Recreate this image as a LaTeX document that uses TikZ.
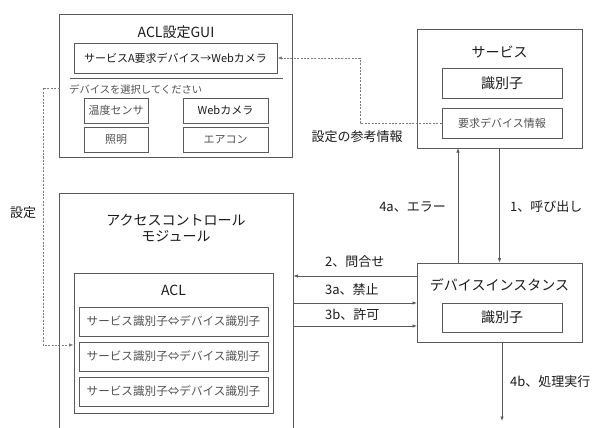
\documentclass[tikz,border=0pt]{standalone}
\usepackage{fontspec}
\setmainfont{Noto Sans CJK JP}
\usetikzlibrary{arrows.meta}
\definecolor{ln}{HTML}{5A5A5A}
\definecolor{tx}{HTML}{1A1A1A}
\definecolor{tl}{HTML}{505050}
\tikzset{
  box/.style={draw=ln,line width=0.8pt,minimum width=#1,inner sep=0pt},
  ttl/.style={font=\fontsize{14}{16}\selectfont,text=tx},
  lbl/.style={font=\fontsize{13}{15}\selectfont,text=tx,inner sep=0pt},
  sml/.style={font=\fontsize{11}{13}\selectfont,text=tl},
  ent/.style={font=\fontsize{11.6}{13}\selectfont,text=tl},
  conn/.style={draw=ln,line width=0.8pt,-{Latex[length=4.5pt,width=3.5pt]}},
  dconn/.style={draw=ln!80,line width=0.8pt,dash pattern=on 2pt off 1.4pt,-{Latex[length=4.5pt,width=3.5pt]}}
}
\begin{document}
\begin{tikzpicture}[x=1pt,y=-1pt]
\useasboundingbox (0,0) rectangle (603,428);
\clip (0,0) rectangle (603,428);
% GUI
\node[box=233pt,minimum height=143.5pt] (gui) at (176,85.75) {};
\node[ttl] (guititle) at (176,32) {ACL設定GUI};
\node[box=203pt,minimum height=30pt,sml,text=tx] (guisel) at (175.5,58) {サービスA要求デバイス→Webカメラ};
\coordinate (sepL) at (70,78);
\coordinate (sepR) at (283,78);
\draw[ln,line width=0.8pt] (sepL) -- (sepR);
\node[sml,font=\fontsize{10.3}{12}\selectfont,anchor=west,inner sep=0pt] (prompt) at (69,90) {デバイスを選択してください};
\node[box=64pt,minimum height=25pt,sml] (b1) at (116,110.5) {温度センサ};
\node[box=85pt,minimum height=25pt,sml,text=tx] (b2) at (225.5,110.5) {Webカメラ};
\node[box=64pt,minimum height=25pt,sml] (b3) at (116,140) {照明};
\node[box=85pt,minimum height=25pt,sml] (b4) at (225.5,140) {エアコン};
% Service
\node[box=165pt,minimum height=119pt] (svc) at (499.5,88.5) {};
\node[ttl] (svctitle) at (499.5,52) {サービス};
\node[box=120pt,minimum height=30pt,ttl] (svcid) at (502,83) {識別子};
\node[box=120pt,minimum height=30pt,sml] (svcreq) at (502,123) {要求デバイス情報};
% Device instance
\node[box=165pt,minimum height=79pt] (dev) at (499.5,302.5) {};
\node[ttl] (devtitle) at (499.5,285) {デバイスインスタンス};
\node[box=120pt,minimum height=29pt,ttl] (devid) at (502,317.5) {識別子};
% Access control module
\node[box=234pt,minimum height=257pt] (acm) at (176,321.5) {};
\node[ttl,align=center] (acmtitle) at (176,228) {アクセスコントロール\\モジュール};
\node[box=199pt,minimum height=140pt] (acl) at (173.5,343) {};
\node[ttl] (acltitle) at (173.5,290) {ACL};
\node[box=189pt,minimum height=29pt,ent] (e1) at (173.5,321.5) {サービス識別子⇔デバイス識別子};
\node[box=189pt,minimum height=29pt,ent] (e2) at (173.5,356.5) {サービス識別子⇔デバイス識別子};
\node[box=189pt,minimum height=29pt,ent] (e3) at (173.5,391.5) {サービス識別子⇔デバイス識別子};
% connectors service <-> device
\coordinate (a4top) at (458,148);
\coordinate (a4bot) at (458,263);
\draw[conn] (a4bot) -- (a4top);
\draw[conn] (svc.south) -- (dev.north);
\node[lbl,anchor=east] (l4a) at (446,207) {4a、エラー};
\node[lbl,anchor=west] (l1) at (510,207) {1、呼び出し};
% device <-> module
\coordinate (q2) at (417,276);
\coordinate (q3a) at (417,303);
\coordinate (q3b) at (417,326);
\draw[conn] (q2) -- (q2 -| acm.east);
\draw[conn] (q3a -| acm.east) -- (q3a);
\draw[conn] (q3b -| acm.east) -- (q3b);
\node[lbl,anchor=west] (l2) at (325,262) {2、問合せ};
\node[lbl,anchor=west] (l3a) at (325,290) {3a、禁止};
\node[lbl,anchor=west] (l3b) at (325,315) {3b、許可};
% 4b
\coordinate (o4b) at (502,421);
\draw[conn] (o4b |- dev.south) -- (o4b);
\node[lbl,anchor=west] (l4b) at (510,382) {4b、処理実行};
% dashed reference info
\coordinate (r1) at (360,58);
\draw[dconn] (svcreq.west) -| (r1) -- (guisel.east);
\node[lbl] (lref) at (357,137) {設定の参考情報};
% dashed setting
\coordinate (s0) at (59.5,88);
\coordinate (s1) at (43,88);
\coordinate (s2) at (43,345);
\draw[dconn] (s0) -- (s1) -- (s2) -- (s2 -| acl.west);
\node[lbl] (lset) at (23,213) {設定};
\end{tikzpicture}
\end{document}
